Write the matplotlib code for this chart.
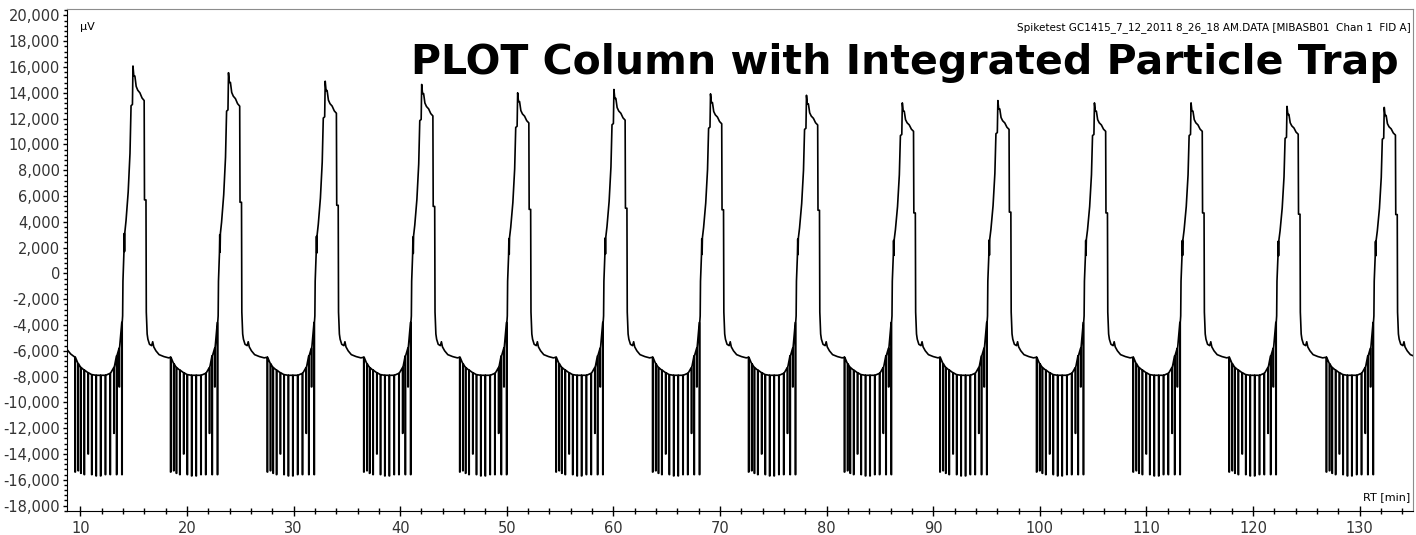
import numpy as np
import matplotlib.pyplot as plt
from matplotlib.ticker import MultipleLocator, AutoMinorLocator, StrMethodFormatter

plt.rcParams['font.family'] = ['DejaVu Sans']
plt.rcParams['axes.unicode_minus'] = False

# peak maxima (RT min, µV)
peak_times = [14.94, 23.90, 32.97, 42.02, 51.02, 60.05, 69.11, 78.11, 87.10, 96.06, 105.12, 114.18, 123.18, 132.30]
peak_heights = [16080, 15560, 14900, 14650, 14000, 14260, 13920, 13810, 13220, 13400, 13220, 13220, 12950, 12870]
ref_height = 16080

# spike zone before each peak: time relative to peak, baseline level, spike bottom
spike_rel = [-5.44, -5.15, -4.90, -4.58, -4.22, -3.88, -3.47, -3.05, -2.60, -2.15, -1.80, -1.55, -1.30, -1.05]
spike_floor = [-6500, -7000, -7300, -7500, -7700, -7850, -7900, -7900, -7900, -7750, -7300, -6400, -5800, -3800]
spike_bottom = [-15400, -15300, -15500, -15600, -14000, -15600, -15700, -15700, -15600, -15600, -12400, -15600, -8800, -15600]
spike_width = 0.04

# rise, top, fall and tail of one cycle (read from the first peak)
shape_rel = [-0.97, -0.94, -0.85, -0.82, -0.79, -0.76, -0.65, -0.45, -0.28, -0.18, -0.05, 0.0,
             0.08, 0.18, 0.30, 0.45, 0.65, 0.85, 1.05, 1.08, 1.22, 1.25, 1.33,
             1.40, 1.55, 1.75, 1.85, 1.95, 2.15, 2.45, 2.90, 3.35]
shape_y = [-3300, -600, 1600, 3100, 1700, 3200, 4100, 6300, 9300, 13000, 13100, 16080,
           15300, 15300, 14500, 14200, 14000, 13600, 13400, 5700, 5700, -3000, -4700,
           -5100, -5500, -5600, -5300, -5700, -6000, -6300, -6450, -6550]

# start of the trace before the first spike zone
lead_t = [8.75, 9.10]
lead_y = [-5900, -6250]

t = list(lead_t)
y = list(lead_y)
for tp, h in zip(peak_times, peak_heights):
    for r, f, b in zip(spike_rel, spike_floor, spike_bottom):
        t += [tp + r, tp + r, tp + r + spike_width, tp + r + spike_width]
        y += [f, b, b, f]
    for r, v in zip(shape_rel, shape_y):
        t.append(tp + r)
        y.append(v * h / ref_height if v > 0 else v)

fig = plt.figure(figsize=(14.16, 5.35), dpi=100)
ax = fig.add_axes([0.0473, 0.0454, 0.9506, 0.9378])
ax.plot(t, y, color='black', lw=1.2)

ax.set_xlim(8.75, 135)
ax.set_ylim(-18400, 20500)
ax.set_xticks(range(10, 131, 10))
ax.xaxis.set_minor_locator(MultipleLocator(2))
ax.set_yticks(range(-18000, 20001, 2000))
ax.yaxis.set_minor_locator(AutoMinorLocator(5))
ax.yaxis.set_major_formatter(StrMethodFormatter('{x:,.0f}'))

ax.tick_params(axis='x', which='major', direction='inout', length=7, width=1, labelsize=10.5, pad=4, labelcolor='#333333')
ax.tick_params(axis='x', which='minor', direction='inout', length=4, width=1)
ax.tick_params(axis='y', which='major', direction='out', length=3, width=1, labelsize=10.5, pad=2, labelcolor='#333333')
ax.tick_params(axis='y', which='minor', direction='out', length=2, width=1)

for s in ['top', 'right']:
    ax.spines[s].set_color('#8c8c8c')
for s in ['left', 'bottom']:
    ax.spines[s].set_color('black')

ax.text(0.010, 0.964, 'µV', transform=ax.transAxes, fontsize=8, va='center', ha='left')
ax.text(0.998, 0.964, 'Spiketest GC1415_7_12_2011 8_26_18 AM.DATA [MIBASB01  Chan 1  FID A]',
        transform=ax.transAxes, fontsize=7.5, va='center', ha='right')
ax.text(0.989, 0.892, 'PLOT Column with Integrated Particle Trap', transform=ax.transAxes,
        fontsize=29.5, fontweight='bold', va='center', ha='right')
ax.text(0.998, 0.027, 'RT [min]', transform=ax.transAxes, fontsize=8, va='center', ha='right')

fig.savefig('out.png', dpi=100)
